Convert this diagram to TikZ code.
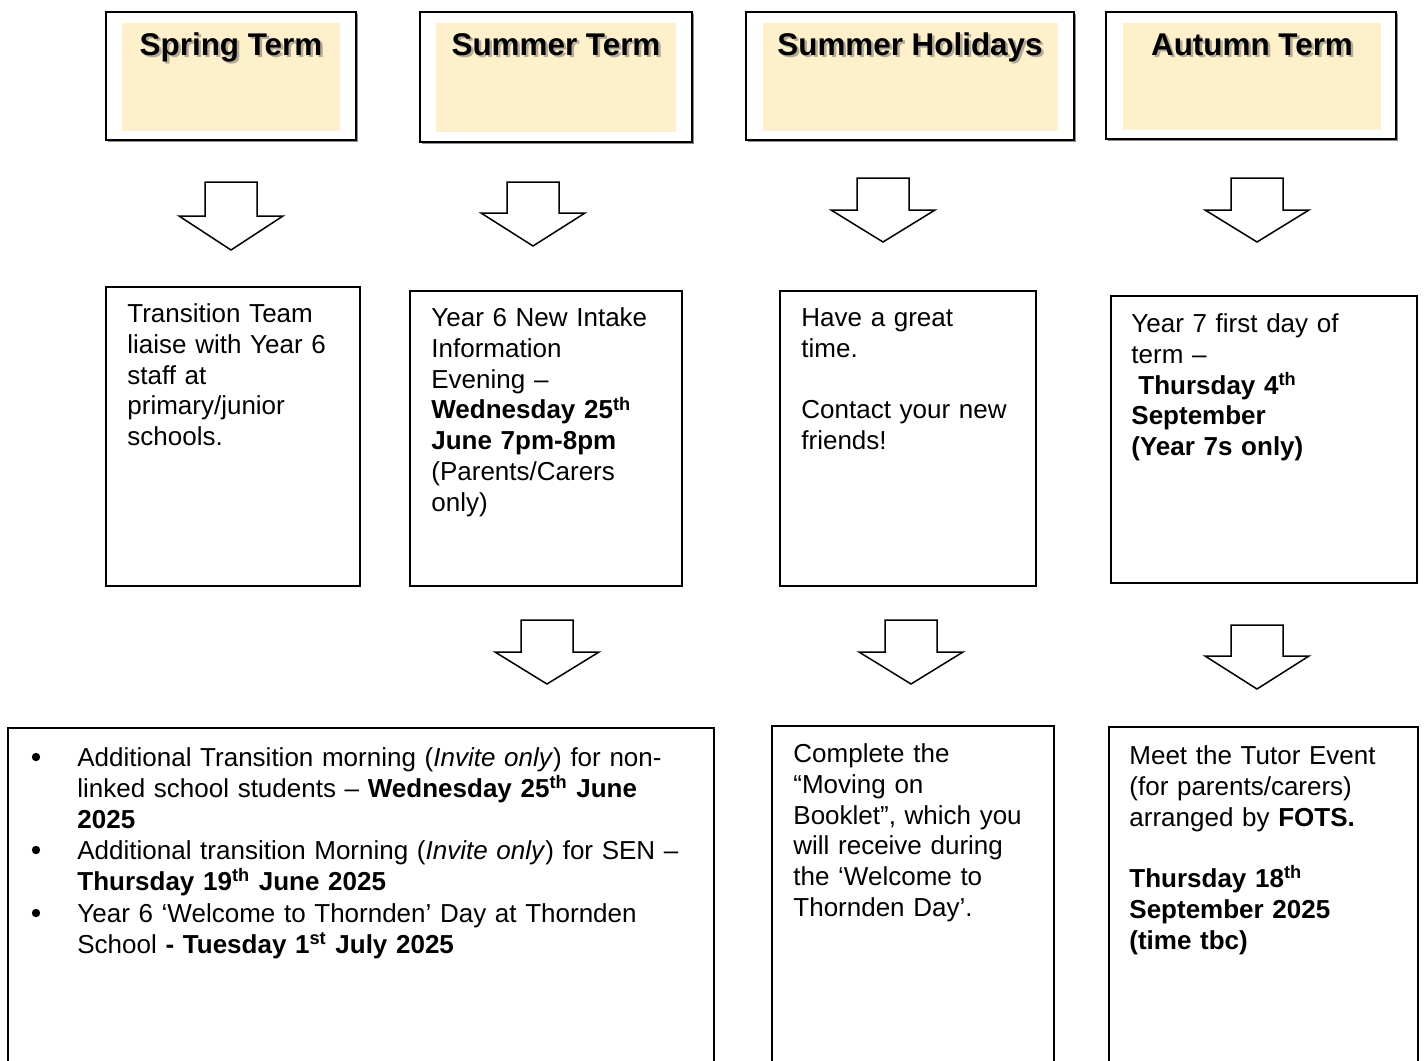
\documentclass[tikz,border=0pt]{standalone}
\usepackage{fontspec}
\setmainfont{Liberation Sans}
\usetikzlibrary{fit}
\definecolor{cream}{HTML}{FFF0CC}
\newcommand\bodyfont{\fontsize{13}{15.4}\selectfont\lineskiplimit=-20pt\relax}
\newcommand\headfont{\fontsize{15.7}{18}\selectfont\bfseries}
\newcommand\blockarr[4]{\draw[arrowline] (#1-26,#2) -- (#1-26,#3) -- (#1-52,#3) -- (#1,#4) -- (#1+52,#3) -- (#1+26,#3) -- (#1+26,#2) -- cycle;}
\begin{document}
\begin{tikzpicture}[x=0.5pt,y=-0.5pt,
  box/.style={draw=black, line width=0.9pt, fill=white, inner sep=0pt},
  headbox/.style={draw=black, line width=1pt, fill=white, inner sep=0pt},
  shadowbox/.style={fill=black!45, inner sep=0pt},
  innerfill/.style={fill=cream, inner sep=0pt},
  headtxt/.style={anchor=base, inner sep=0pt, font=\headfont},
  headshadow/.style={anchor=base, inner sep=0pt, font=\headfont, text=black!55, opacity=0.55},
  txt/.style={anchor=north west, inner sep=0pt, align=left, text width=320pt, font=\bodyfont},
  dot/.style={circle, fill=black, inner sep=0pt, minimum size=4.2pt},
  arrowline/.style={draw=black, line width=0.75pt, fill=white, line join=miter}
]
\useasboundingbox (0,0) rectangle (1424,1060);
\clip (0,0) rectangle (1424,1060);
\fill[white] (0,0) rectangle (1424,1060);

% ---------- header boxes ----------
\node[shadowbox, fit={(108,14) (358,142)}] (h1s) {};
\node[headbox, fit={(106,12) (356,140)}] (h1) {};
\node[innerfill, fit={(122,23) (340,131)}] (h1i) {};
\node[headshadow] (h1ts) at (233.5,57.5) {Spring Term};
\node[headtxt] (h1t) at (231,55) {Spring Term};

\node[shadowbox, fit={(422,14) (694,144)}] (h2s) {};
\node[headbox, fit={(420,12) (692,142)}] (h2) {};
\node[innerfill, fit={(436,23) (676,132)}] (h2i) {};
\node[headshadow] (h2ts) at (558.5,57.5) {Summer Term};
\node[headtxt] (h2t) at (556,55) {Summer Term};

\node[shadowbox, fit={(748,14) (1076,142)}] (h3s) {};
\node[headbox, fit={(746,12) (1074,140)}] (h3) {};
\node[innerfill, fit={(763,23) (1058,131)}] (h3i) {};
\node[headshadow] (h3ts) at (912.5,57.5) {Summer Holidays};
\node[headtxt] (h3t) at (910,55) {Summer Holidays};

\node[shadowbox, fit={(1108,14) (1398,141)}] (h4s) {};
\node[headbox, fit={(1106,12) (1396,139)}] (h4) {};
\node[innerfill, fit={(1123,23) (1381,130)}] (h4i) {};
\node[headshadow] (h4ts) at (1254.5,57.5) {Autumn Term};
\node[headtxt] (h4t) at (1252,55) {Autumn Term};

% ---------- block arrows ----------
\blockarr{231}{182}{216}{250}
\blockarr{533}{182}{213}{246}
\blockarr{883}{178}{210}{242}
\blockarr{1257}{178}{210}{242}
\blockarr{547}{620}{652}{684}
\blockarr{911}{620}{652}{684}
\blockarr{1257}{625}{656}{689}

% ---------- middle boxes ----------
\node[box, fit={(106,287) (360,586)}] (m1) {};
\node[txt] (m1t) at (127,322-21.56) {\strut Transition Team\\liaise with Year 6\\staff at\\primary/junior\\schools.};

\node[box, fit={(410,291) (682,586)}] (m2) {};
\node[txt] (m2t) at (431,326-21.56) {\strut Year 6 New Intake\\Information\\Evening –\\\textbf{Wednesday 25\textsuperscript{th}}\\\textbf{June 7pm-8pm}\\(Parents/Carers\\only)};

\node[box, fit={(780,291) (1036,586)}] (m3) {};
\node[txt] (m3t) at (801,326-21.56) {\strut Have a great\\time.\\\mbox{}\\Contact your new\\friends!};

\node[box, fit={(1111,296) (1417,583)}] (m4) {};
\node[txt] (m4t) at (1131,332-21.56) {\strut Year 7 first day of\\term –\\\hspace*{3.5pt}\textbf{Thursday 4\textsuperscript{th}}\\\textbf{September}\\\textbf{(Year 7s only)}};

% ---------- bottom boxes ----------
\node[box, fit={(8,728) (714,1080)}] (b1) {};
\node[dot] (bu1) at (36,757) {};
\node[dot] (bu2) at (36,850) {};
\node[dot] (bu3) at (36,913) {};
\node[txt] (b1t) at (77,766-21.56) {\strut Additional Transition morning (\textit{Invite only}) for non-\\linked school students – \textbf{Wednesday 25\textsuperscript{th} June}\\\textbf{2025}\\[0.5pt]Additional transition Morning (\textit{Invite only}) for SEN –\\\textbf{Thursday 19\textsuperscript{th} June 2025}\\[0.5pt]Year 6 ‘Welcome to Thornden’ Day at Thornden\\School \textbf{- Tuesday 1\textsuperscript{st} July 2025}};

\node[box, fit={(772,726) (1054,1080)}] (b2) {};
\node[txt] (b2t) at (793,762-21.56) {\strut Complete the\\“Moving on\\Booklet”, which you\\will receive during\\the ‘Welcome to\\Thornden Day’.};

\node[box, fit={(1109,727) (1418,1080)}] (b3) {};
\node[txt] (b3t) at (1129,764-21.56) {\strut Meet the Tutor Event\\(for parents/carers)\\arranged by \textbf{FOTS.}\\\mbox{}\\\textbf{Thursday 18\textsuperscript{th}}\\\textbf{September 2025}\\\textbf{(time tbc)}};
\end{tikzpicture}
\end{document}
